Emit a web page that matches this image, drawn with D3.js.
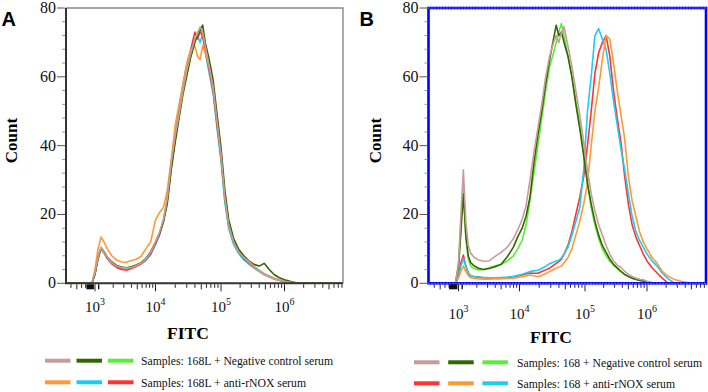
<!DOCTYPE html>
<html>
<head>
<meta charset="utf-8">
<script src="https://cdn.jsdelivr.net/npm/d3@7"></script>
<style>
    body { margin: 0; background: #fff; }
    svg { display: block; }
    .serif { font-family: "Liberation Serif", "Times New Roman", Times, serif; }
</style>
</head>
<body>
<div id="chart"></div>
<script>
// FITC bin centres (same bins for every histogram of a panel)
const fitcA = [340, 890, 1000, 1120, 1260, 1410, 1590, 1900, 2290, 2750,
    3310, 3980, 4790, 5750, 6920, 8320, 1.0e4, 1.15e4, 1.32e4, 1.51e4,
    1.74e4, 2.0e4, 2.29e4, 2.63e4, 3.02e4, 3.47e4, 3.98e4, 4.37e4, 4.79e4, 5.25e4,
    5.75e4, 6.61e4, 7.59e4, 8.71e4, 1.0e5, 1.15e5, 1.32e5, 1.58e5, 1.91e5, 2.29e5,
    2.75e5, 3.31e5, 3.98e5, 4.79e5, 5.75e5, 6.92e5, 8.32e5, 1.0e6, 1.26e6, 1.58e6, 7.9e6]

const fitcB = [340, 891, 1000, 1096, 1202, 1318, 1445, 1585, 1820, 2138,
    2570, 3162, 3981, 5012, 6310, 7943, 9333, 1.097e4, 1.259e4, 1.445e4,
    1.66e4, 1.906e4, 2.188e4, 2.512e4, 2.884e4, 3.311e4, 3.631e4, 3.981e4, 4.365e4, 4.786e4,
    5.495e4, 6.31e4, 7.244e4, 8.318e4, 9.55e4, 1.096e5, 1.259e5, 1.445e5, 1.66e5, 1.905e5,
    2.188e5, 2.512e5, 2.884e5, 3.311e5, 3.802e5, 4.365e5, 5.012e5, 5.754e5, 6.607e5, 7.586e5,
    8.71e5, 1.0e6, 1.202e6, 1.445e6, 1.738e6, 2.089e6, 2.63e6, 3.548e6, 5.012e6, 8.3e6]

// panel A counts: 168L
const aGreen = [0,0,3,7.3,10.2, 8.8,7.3,5.8,4.8,4.5, 4.3,4.5,5,5.8,6.8, 8.8,11.8,14.5,18.2,24,
    34,42,49,56,61, 66,70,73,74,72, 68,62,56,46,36, 24,16.5,11.5,8.7,7,
    5.8,4.6,3.6,2.6,2, 1.4,0.9,0.5,0.2,0, 0]
const aCyan = [0,0,3,7.3,10, 8.8,7.2,5.6,4.6,4.3, 4.3,4.5,5,5.6,6.6, 8.3,11.2,14,17.8,24,
    35,44,51,58,64, 68,71,72,70,72.5, 67,61,55,45,35.5, 23.5,16,11.3,8.6,6.8,
    5.6,4.4,3.4,2.5,1.8, 1.2,0.8,0.4,0.1,0, 0]
const aRed = [0,0,3,7.5,10.3, 9,7.3,5.8,4.6,4, 3.8,4.3,4.9,5.7,6.8, 8.6,11.5,14.2,18,24,
    34,42,49,56,63, 68,73,71,73,72, 68,62,56,46,37, 25,17,12,9,7.2,
    6,4.8,3.7,2.7,2, 1.4,0.9,0.5,0.2,0, 0]
const aOrange = [0,0,4,10,13.4, 12,10,8,6.8,6.2, 6.1,6.6,7,7.8,10, 12,18.4,20.5,22,27,
    36,46,52,58,64, 68,69,66,65,69, 67,63,57,48,38, 26,18,12.5,9.3,7.5,
    6.2,4.8,3.6,2.6,1.9, 1.3,0.9,0.5,0.2,0, 0]
const aDarkGreen = [0,0,2.5,7,10.3, 9.2,7.6,6.2,5.2,4.7, 4.5,4.8,5.3,6,7.2, 9.2,12,14.5,18,23,
    33,41,48,55,60.5, 66,70,72,73.5,75, 70,65,59,49,39.5, 27,18.5,13,9.8,8,
    6.5,5.5,5,5.8,4, 2.5,1.6,1,0.5,0.1, 0]
const aGrey = [0,0,3,7.5,10.5, 9,7.5,6,5,4.6, 4.4,4.6,5.1,5.9,7, 9,12,14.8,18.5,24.5,
    35,43,49,56,62, 67,71,72.5,74.5,73, 69,63,57,47,37.5, 25,17,12,9,7.5,
    6.3,5,3.8,2.8,2.1, 1.5,1,0.6,0.3,0, 0]

// panel B counts: 168
const bRed = [0,0,2,6,8.2, 5,3,2.2,1.9,1.8, 1.6,1.5,1.5,1.6,1.7, 1.9,2.1,2.4,2.7,3,
    2.9,2.9,3.4,3.9,4.4, 5.2,5.8,6.3,7,8.5, 11,15,20,25,31, 40,50,61,67,70,
    72,66,56,48,41, 31,23,17,13.5,11, 8.5,6.5,4.5,3,1.5, 0.2,0,0,0,0]
const bCyan = [0,0,2,5,7.3, 5,3,2.2,1.9,1.8, 1.7,1.6,1.6,1.7,1.8, 2,2.3,2.6,3,3.4,
    3.6,3.8,4.3,5,5.7, 6.2,6.5,6.7,7.3,8.5, 10.5,14,18,22,33, 50,60,72,74,71,
    68,61,53,46,39, 33,26,19.5,15,12.5, 10.5,8.5,6.5,5,3, 1.5,0.2,0,0,0]
const bOrange = [0,0,1.5,3.5,5, 3.5,2.2,1.6,1.4,1.3, 1.2,1.2,1.3,1.3,1.4, 1.5,1.7,1.9,2.1,2.4,
    2.2,1.9,2.3,2.8,3.4, 4,4.4,4.7,5,6, 7.5,10,14,18,23, 29,40,50,57,65,
    72,71,64,56,49, 42,31,24,19.5,15, 12,10,7.5,5.8,3.5, 2.2,1.2,0.5,0,0]
const bGreen = [0,0,5,18,29, 13,7,5,4.2,3.9, 4,4.5,5.1,5.5,6.5, 8,10,12.5,17,24,
    32,40,48,56,63, 67,70,73,75.5,72, 66,60,53,46,38, 29,22,17,13,10,
    8,6.5,5.3,4.3,3.3, 2.5,2,1.5,1.1,0.8, 0.5,0.3,0,0,0, 0,0,0,0,0]
const bDarkGreen = [0,0,5,15,26, 14,8,6,5,4.4, 4,4.3,4.8,5.5,7.7, 10.5,13.5,16,19.5,25,
    35,43,50,58,65, 71,75,72,73,70, 66,60,52,45,37, 29,23,18,14,11,
    9,7,5.5,4.5,3.5, 2.6,2,1.5,1.2,0.9, 0.7,0.4,0.1,0,0, 0,0,0,0,0]
const bGrey = [0,0,6,20,33, 18,11,8.7,7.5,6.8, 6.4,6.5,7.8,9,10.5, 13,15.5,18.5,22.5,30,
    38,45,52,60,66, 70,72,70,73,74.5, 69,63,56,49,41, 33,26,21,17,14,
    11,8.5,6.5,5.3,4.6, 3.5,2.6,2,1.5,1.2, 1,0.6,0.2,0,0, 0,0,0,0,0]

const yTicks = [0, 20, 40, 60, 80]
const xTickExp = [3, 4, 5, 6]

const legendA = ["Samples: 168L + Negative control serum", "Samples: 168L + anti-rNOX serum"]
const legendB = ["Samples: 168 + Negative control serum", "Samples: 168 + anti-rNOX serum"]

const c_grey = "#c89b9b", c_dkgreen = "#336600", c_green = "#5cee36",
    c_orange = "#ff9933", c_cyan = "#1ccbf7", c_red = "#ff3333"

let svg = d3.select("#chart").append("svg")
    .attr("width", 708)
    .attr("height", 392)

// squeeze a text to the width it has in the figure if the font runs wider
function fitWidth(sel, w) {
    sel.each(function () {
        if (this.getComputedTextLength() > w + 1) {
            d3.select(this).attr("textLength", w).attr("lengthAdjust", "spacingAndGlyphs")
        }
    })
}

function drawPanel(p) {
    let x = d3.scaleLog()
        .domain(p.xDomain)
        .range(p.xRange)
    let y = d3.scaleLinear().domain([0, 80]).range([283.3, 8])

    let g = svg.append("g")
    let left = p.xRange[0], right = p.xRange[p.xRange.length - 1]

    g.append("clipPath").attr("id", "clip" + p.id)
        .append("rect")
        .attr("x", left).attr("y", y(80))
        .attr("width", right - left).attr("height", y(0) - y(80))

    // histograms
    let line = d3.line()
        .x((d, i) => x(p.fitc[i]))
        .y(d => y(d))

    g.append("g")
        .attr("clip-path", "url(#clip" + p.id + ")")
        .selectAll("path")
        .data(p.series)
        .enter()
        .append("path")
        .attr("d", d => line(d.values))
        .attr("fill", "none")
        .attr("stroke", d => d.color)
        .attr("stroke-width", 1.6)
        .attr("stroke-linejoin", "round")

    // frame
    if (p.blue) {
        g.append("rect")
            .attr("x", left).attr("y", y(80))
            .attr("width", right - left).attr("height", y(0) - y(80))
            .attr("fill", "none").attr("stroke", "#0000ff").attr("stroke-width", 2.6)
        ;[y(80), y(0)].forEach(yy => {
            g.append("line")
                .attr("x1", left).attr("x2", right).attr("y1", yy).attr("y2", yy)
                .attr("stroke", "#fff").attr("stroke-width", 0.8)
                .attr("stroke-dasharray", "1,2")
        })
    } else {
        g.append("path")
            .attr("d", `M${left},${y(80)}H${right}V${y(0)}`)
            .attr("fill", "none").attr("stroke", "#8a8a8a").attr("stroke-width", 1.4)
        g.append("path")
            .attr("d", `M${left},${y(80)}V${y(0)}H${right}`)
            .attr("fill", "none").attr("stroke", "#333").attr("stroke-width", 2)
    }

    // y ticks
    let yMinor = d3.range(0, 81, 4)
    g.selectAll(".ymin").data(yMinor).enter().append("line")
        .attr("x1", left - 1).attr("x2", d => left - (yTicks.includes(d) ? 9 : 4))
        .attr("y1", d => y(d)).attr("y2", d => y(d))
        .attr("stroke", d => yTicks.includes(d) ? "#555" : "#999")
        .attr("stroke-width", 1)
    g.selectAll(".ylab").data(yTicks).enter().append("text")
        .attr("class", "serif")
        .attr("x", left - 10).attr("y", d => y(d) + 5)
        .attr("text-anchor", "end")
        .attr("font-size", "16px").attr("fill", "#111")
        .text(d => d)

    // x ticks
    let lo = p.xDomain[0], hi = p.xDomain[p.xDomain.length - 1]
    let xMinor = []
    for (let k = 2; k <= 6; k++) {
        for (let m = 1; m <= 9; m++) {
            let v = m * Math.pow(10, k)
            if (v >= lo && v <= hi) xMinor.push(v)
        }
    }
    g.selectAll(".xmin").data(xMinor).enter().append("line")
        .attr("x1", d => x(d)).attr("x2", d => x(d))
        .attr("y1", y(0) + 1)
        .attr("y2", d => y(0) + (String(d).charAt(0) === "1" ? 8 : (String(d).charAt(0) === "5" ? 6 : 4.5)))
        .attr("stroke", "#222").attr("stroke-width", 1)

    // dense tick cluster under the 10^3 region
    g.selectAll(".xdense").data(p.dense).enter().append("rect")
        .attr("x", d => x(d[0])).attr("width", d => x(d[1]) - x(d[0]))
        .attr("y", y(0) + 1).attr("height", 5)
        .attr("fill", "#111")

    let xl = g.selectAll(".xlab").data(xTickExp).enter().append("text")
        .attr("class", "serif")
        .attr("x", d => x(Math.pow(10, d)))
        .attr("y", p.xLabelY)
        .attr("text-anchor", "middle")
        .attr("font-size", "15px").attr("fill", "#111")
    xl.append("tspan").text("10")
    xl.append("tspan").attr("dy", -7).attr("font-size", "10px").text(d => d)

    // titles
    g.append("text")
        .attr("x", p.letterX).attr("y", 26)
        .attr("font-family", "'Liberation Sans', Arial, sans-serif")
        .attr("font-weight", "bold").attr("font-size", "20px")
        .text(p.letter)
    g.append("text")
        .attr("class", "serif")
        .attr("transform", `translate(${p.countX},140.5) rotate(-90)`)
        .attr("text-anchor", "middle")
        .attr("font-weight", "bold").attr("font-size", "17px")
        .text("Count")
        .call(fitWidth, 45)
    g.append("text")
        .attr("class", "serif")
        .attr("x", p.fitcX).attr("y", p.fitcY)
        .attr("text-anchor", "middle")
        .attr("font-weight", "bold").attr("font-size", "17.5px")
        .text("FITC")
        .call(fitWidth, 41)

    // legend
    p.legend.forEach((row, r) => {
        let ly = p.legendY[r]
        row.colors.forEach((c, i) => {
            g.append("line")
                .attr("x1", p.legendX + i * p.swatchStep).attr("x2", p.legendX + i * p.swatchStep + 25.5)
                .attr("y1", ly).attr("y2", ly)
                .attr("stroke", c).attr("stroke-width", 4)
        })
        g.append("text")
            .attr("class", "serif")
            .attr("x", p.legendText).attr("y", ly + 4.5)
            .attr("font-size", "12px").attr("fill", "#111")
            .text(row.label)
            .call(fitWidth, row.width)
    })
}

drawPanel({
    id: "A", letter: "A", letterX: 1.5, countX: 16.5, blue: false,
    xDomain: [331, 1e3, 1e4, 1e5, 1e6, 8.3e6],
    xRange: [66, 95, 155.5, 221, 284.5, 343],
    fitc: fitcA,
    series: [
        {color: c_green, values: aGreen},
        {color: c_cyan, values: aCyan},
        {color: c_red, values: aRed},
        {color: c_orange, values: aOrange},
        {color: c_dkgreen, values: aDarkGreen},
        {color: c_grey, values: aGrey}
    ],
    dense: [[720, 960], [1120, 1180]],
    xLabelY: 312,
    fitcX: 188, fitcY: 339,
    legendX: 45, swatchStep: 31.5, legendText: 141, legendY: [360.7, 382.3],
    legend: [
        {colors: [c_grey, c_dkgreen, c_green], label: legendA[0], width: 192},
        {colors: [c_orange, c_cyan, c_red], label: legendA[1], width: 165}
    ]
})

drawPanel({
    id: "B", letter: "B", letterX: 359.5, countX: 380.5, blue: true,
    xDomain: [322, 1e3, 1e4, 1e5, 1e6, 8.5e6],
    xRange: [428.5, 458.5, 519.5, 585, 647, 706],
    fitc: fitcB,
    series: [
        {color: c_red, values: bRed},
        {color: c_cyan, values: bCyan},
        {color: c_orange, values: bOrange},
        {color: c_green, values: bGreen},
        {color: c_dkgreen, values: bDarkGreen},
        {color: c_grey, values: bGrey}
    ],
    dense: [[700, 960], [1120, 1180]],
    xLabelY: 319,
    fitcX: 551, fitcY: 343,
    legendX: 414, swatchStep: 34.2, legendText: 517, legendY: [362.3, 383.3],
    legend: [
        {colors: [c_grey, c_dkgreen, c_green], label: legendB[0], width: 185},
        {colors: [c_red, c_orange, c_cyan], label: legendB[1], width: 158}
    ]
})
</script>
</body>
</html>
